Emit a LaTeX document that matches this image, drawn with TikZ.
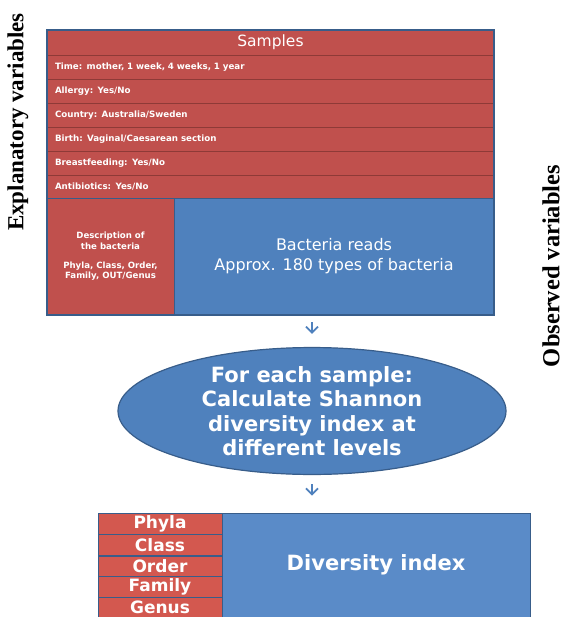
\documentclass[tikz,border=0pt]{standalone}
\usepackage{fontspec}
\setmainfont{DejaVu Sans}
\newfontfamily\serifb{Liberation Serif}
\usetikzlibrary{shapes.geometric,arrows.meta}
\definecolor{myred}{HTML}{C0504D}
\definecolor{myredb}{HTML}{D3584F}
\definecolor{myblue}{HTML}{4F81BD}
\definecolor{mybluel}{HTML}{5A8BC8}
\definecolor{myborder}{HTML}{385D8A}
\definecolor{redline}{HTML}{8E3A37}
\tikzset{
  redrow/.style={rectangle, fill=myred, draw=redline, line width=0.8pt, minimum width=447pt, text width=431pt, align=left, inner xsep=0pt, inner ysep=0pt, text=white, font=\fontsize{8.7}{10}\bfseries\selectfont},
  cellbox/.style={rectangle, draw=myborder, line width=0.8pt, text=white, align=center, inner sep=0pt},
  lvlrow/.style={rectangle, fill=myredb, draw=myborder, line width=0.8pt, minimum width=124pt, minimum height=20.8pt, inner sep=0pt, text=white, font=\fontsize{17}{18}\bfseries\selectfont},
  sidelab/.style={rotate=90, font=\serifb\bfseries\fontsize{23}{26}\selectfont, text=black},
  arr/.style={draw=myblue, line width=1.8pt, -{Straight Barb[length=6pt,width=12pt,line width=1.8pt]}}
}
\begin{document}
\begin{tikzpicture}[x=1pt,y=-1pt]
\useasboundingbox[fill=white] (0,0) rectangle (564,617);
% top block
\node[redrow, minimum height=25pt, align=center, font=\fontsize{15.5}{17}\selectfont] (samples) at (270.5,42.5) {Samples};
\node[redrow, minimum height=24pt] (time) at (270.5,67) {Time: mother, 1 week, 4 weeks, 1 year};
\node[redrow, minimum height=24pt] (allergy) at (270.5,91) {Allergy: Yes/No};
\node[redrow, minimum height=24pt] (country) at (270.5,115) {Country: Australia/Sweden};
\node[redrow, minimum height=24pt] (birth) at (270.5,139) {Birth: Vaginal/Caesarean section};
\node[redrow, minimum height=24pt] (breast) at (270.5,163) {Breastfeeding: Yes/No};
\node[redrow, minimum height=23pt] (anti) at (270.5,186.5) {Antibiotics: Yes/No};
\node[cellbox, fill=myred, minimum width=127pt, minimum height=117pt, font=\fontsize{8.6}{10.5}\bfseries\selectfont] (desc) at (110.5,256.5) {Description of\\the bacteria\\[8.5pt]Phyla, Class, Order,\\Family, OUT/Genus};
\node[cellbox, fill=myblue, minimum width=320pt, minimum height=117pt, font=\fontsize{16}{20}\selectfont] (bac) at (334,256.5) {Bacteria reads\\Approx. 180 types of bacteria};
\draw[myborder, line width=1.2pt] (47,30) rectangle (494,315);
% ellipse
\node[ellipse, fill=myblue, draw=myborder, line width=1.2pt, minimum width=388pt, minimum height=122pt, inner sep=0pt, text=white, align=center, font=\fontsize{21}{24.5}\bfseries\selectfont] (ell) at (312,411) {For each sample:\\Calculate Shannon\\diversity index at\\different levels};
\draw[arr, shorten <=7pt, shorten >=13pt] (ell.north |- bac.south) -- (ell.north);
% bottom block
\node[cellbox, fill=mybluel, minimum width=308pt, minimum height=104pt, font=\fontsize{21}{24}\bfseries\selectfont] (div) at (376,565) {Diversity index};
\node[lvlrow] (phyla) at (160,524) {Phyla};
\node[lvlrow] (class) at (160,545) {Class};
\node[lvlrow] (order) at (160,566.5) {Order};
\node[lvlrow] (family) at (160,587) {Family};
\node[lvlrow] (genus) at (160,607.5) {Genus};
\draw[arr, shorten <=9pt, shorten >=17pt] (ell.south) -- (ell.south |- div.north);
% side labels
\node[sidelab] (expl) at (18,122) {Explanatory variables};
\node[sidelab, font=\serifb\bfseries\fontsize{24.5}{27}\selectfont, inner sep=1pt] (obs) at (551,266) {Observed variables};
\end{tikzpicture}
\end{document}
